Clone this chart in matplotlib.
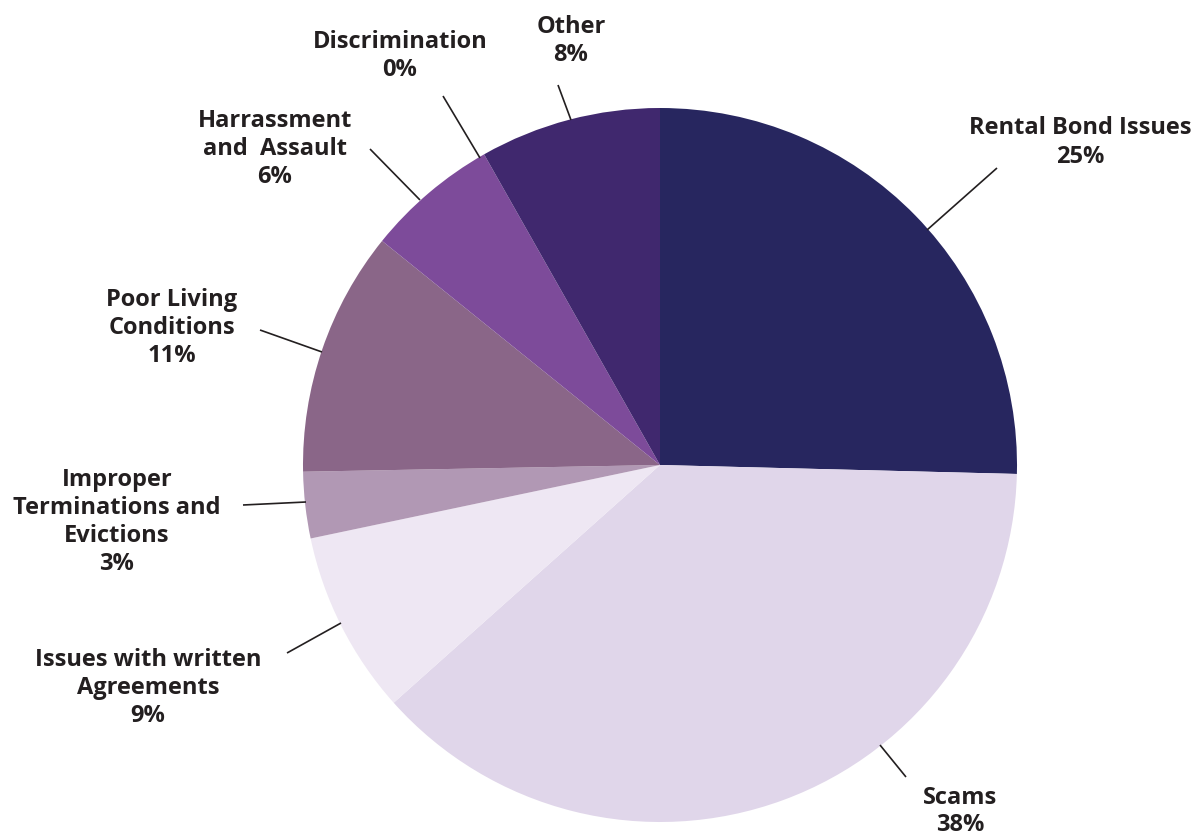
import matplotlib
matplotlib.use("Agg")
import matplotlib.pyplot as plt

# ---- data ----
categories = ["Rental Bond Issues", "Scams", "Issues with written\nAgreements",
              "Improper\nTerminations and\nEvictions", "Poor Living\nConditions",
              "Harrassment\nand  Assault", "Discrimination", "Other"]
values = [25.4, 38.0, 8.3, 3.0, 11.1, 6.0, 0.0, 8.2]
pct_labels = ["25%", "38%", "9%", "3%", "11%", "6%", "0%", "8%"]
colors = ["#27265f", "#e0d6ea", "#eee7f3", "#b198b4", "#8a6688", "#7d4b9a", "#5a3580", "#40286e"]

# ---- layout (pixels, origin top-left) ----
W, H = 1192, 836
CX, CY, R = 660, 465, 357
# text center x, top-line center y, line height ; leader start, leader end
label_layout = [
    (1080, 128, 29, (997, 168), (927, 230)),
    (960, 798, 27, (906, 777), (880, 745)),
    (148, 660, 28, (287, 653), (341, 623)),
    (117, 480, 28, (243, 505), (306, 502)),
    (172, 300, 28, (260, 330), (322, 352)),
    (275, 121, 28, (370, 149), (420, 200)),
    (400, 42, 28, (443, 96), (480, 158)),
    (571, 27, 28, (558, 85), (571, 120)),
]

def px(x, y):
    return (x - CX) / R, (CY - y) / R

fig = plt.figure(figsize=(W / 100, H / 100), dpi=100)
ax = fig.add_axes([0, 0, 1, 1])

ax.pie(values, colors=colors, startangle=90, counterclock=False, radius=1.0,
       center=(0, 0), wedgeprops=dict(linewidth=0), frame=True)
ax.set_xlim(-CX / R, (W - CX) / R)
ax.set_ylim(-(H - CY) / R, CY / R)
ax.set_aspect("auto")
ax.axis("off")

font = dict(family=["Open Sans", "DejaVu Sans"], weight="bold", size=17, color="#231f20")
for cat, pct, (tx, ty, lh, a, b) in zip(categories, pct_labels, label_layout):
    lines = cat.split("\n") + [pct]
    for i, ln in enumerate(lines):
        x, y = px(tx, ty + i * lh)
        ax.text(x, y, ln, ha="center", va="center", **font)
    (x0, y0), (x1, y1) = px(*a), px(*b)
    ax.plot([x0, x1], [y0, y1], color="#231f20", lw=1.2, solid_capstyle="butt")

fig.savefig("out.png", dpi=100)
